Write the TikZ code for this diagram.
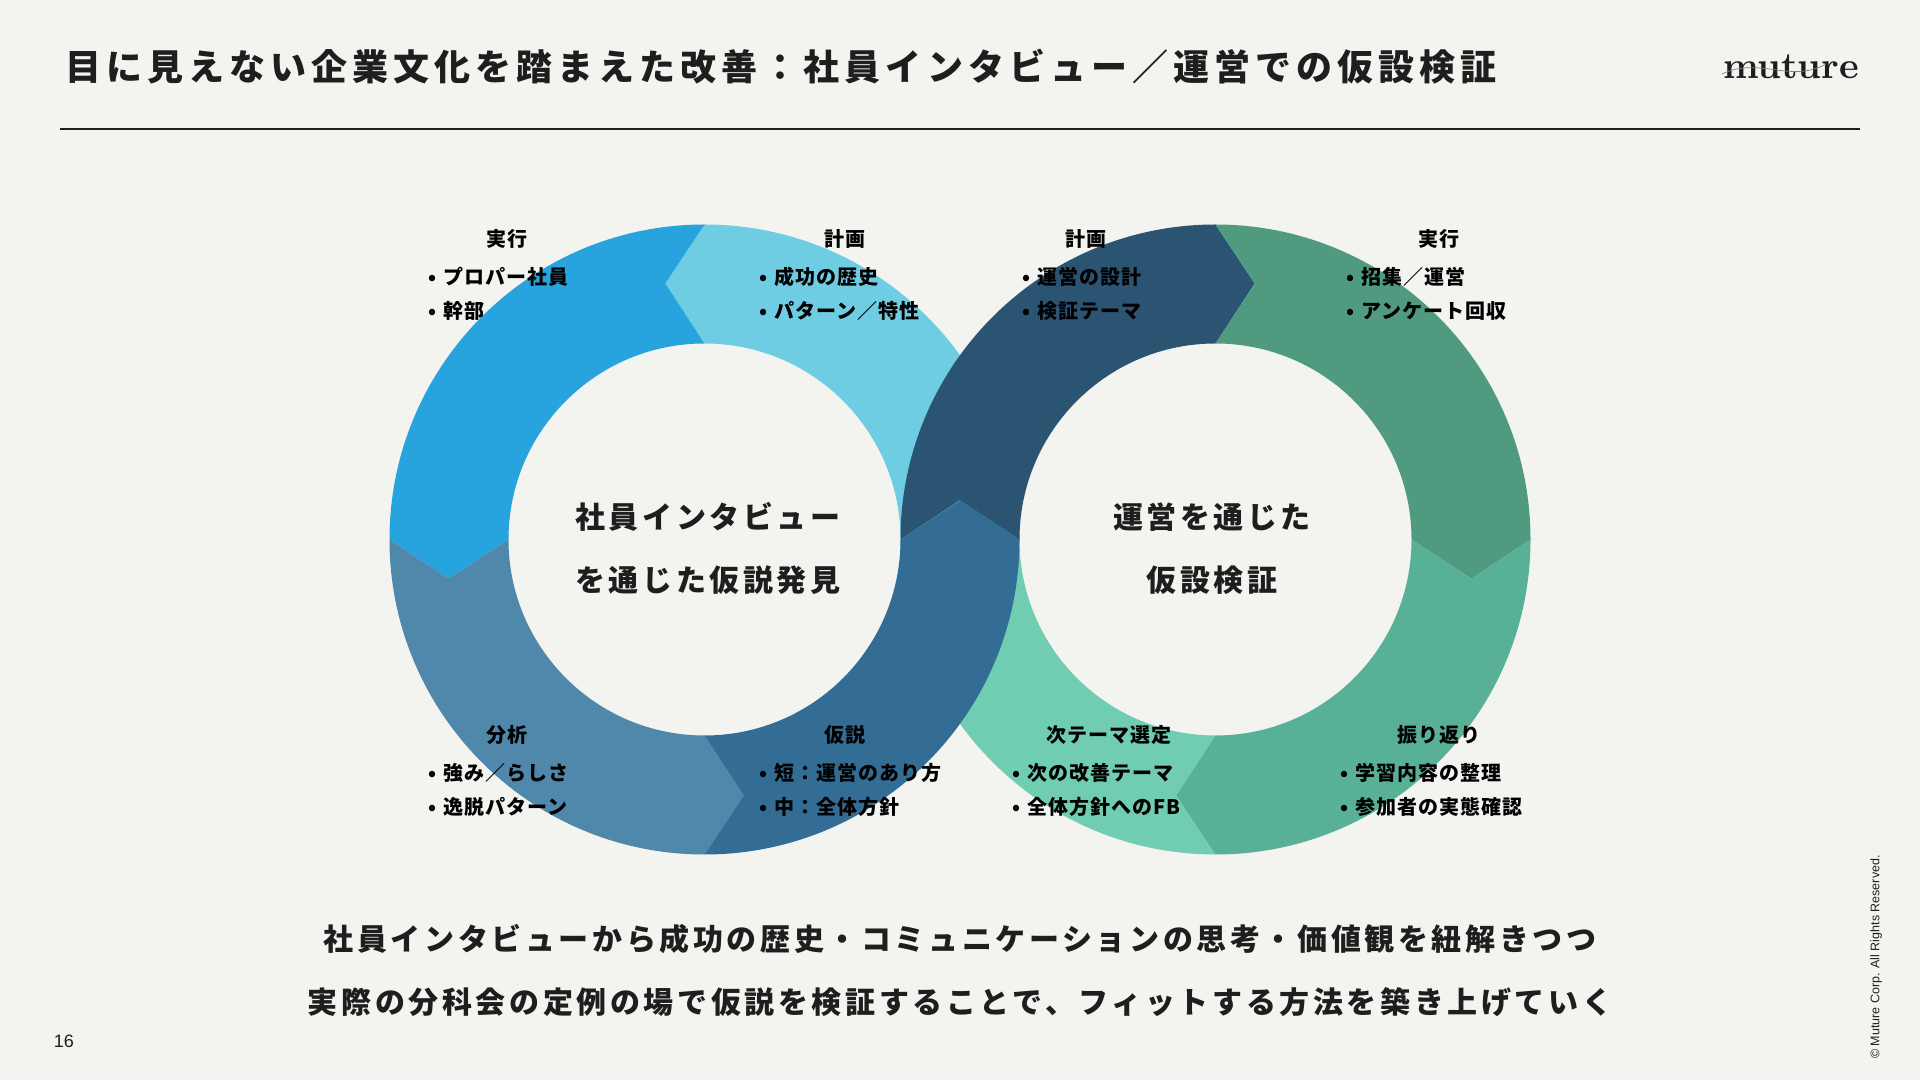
\documentclass[tikz,border=0pt]{standalone}
\usepackage{fontspec}
\usepackage{graphicx}
\setmainfont{Liberation Sans}
\newfontfamily\jptitle[LetterSpace=14]{Noto Sans CJK JP}
\newfontfamily\jpbig[LetterSpace=12]{Noto Sans CJK JP}
\newfontfamily\jpsmall[LetterSpace=5]{Noto Sans CJK JP}
\newfontfamily\logofont{Latin Modern Roman}
\definecolor{bgc}{HTML}{F3F3F0}
\definecolor{ink}{HTML}{1E1E1E}
\definecolor{lblue}{HTML}{6FCDE3}
\definecolor{dblue}{HTML}{27A3DD}
\definecolor{sblue}{HTML}{5088AB}
\definecolor{mblue}{HTML}{336D96}
\definecolor{navy}{HTML}{2B5473}
\definecolor{dgreen}{HTML}{509B80}
\definecolor{mgreen}{HTML}{58B197}
\definecolor{mint}{HTML}{70CDB1}
\newcommand{\blt}{\makebox[15pt][l]{•}}
% counter-clockwise segment: #1 colour, #2 start, #3 end
\newcommand{\ccwseg}[3]{\pgfmathsetmacro{\tipa}{#3+8.7}\pgfmathsetmacro{\ntch}{#2+8.7}%
  \fill[#1] (#2:315) arc[start angle=#2,end angle=#3,radius=315] -- (\tipa:259) -- (#3:196) arc[start angle=#3,end angle=#2,radius=196] -- (\ntch:259) -- cycle;}
% clockwise segment
\newcommand{\cwseg}[3]{\pgfmathsetmacro{\tipa}{#3-8.7}\pgfmathsetmacro{\ntch}{#2-8.7}%
  \fill[#1] (#2:315) arc[start angle=#2,end angle=#3,radius=315] -- (\tipa:259) -- (#3:196) arc[start angle=#3,end angle=#2,radius=196] -- (\ntch:259) -- cycle;}
\tikzset{
  titletext/.style={anchor=west,inner sep=0pt,text=ink,font=\jptitle\bfseries\fontsize{36}{40}\selectfont},
  bigtext/.style={inner sep=0pt,text=ink,font=\jpbig\bfseries\fontsize{30}{36}\selectfont},
  headtext/.style={inner sep=0pt,text=black,font=\jpsmall\bfseries\fontsize{20}{24}\selectfont},
  listtext/.style={anchor=north west,inner sep=0pt,align=left,text=black,font=\jpsmall\bfseries\fontsize{20}{34}\selectfont},
  smalltext/.style={inner sep=0pt,text=ink}
}
\begin{document}
\begin{tikzpicture}[x=1pt,y=1pt]
\useasboundingbox (0,0) rectangle (1920,1080);
\fill[bgc] (0,0) rectangle (1920,1080);
% header
\node[titletext] (title) at (65,1013) {目に見えない企業文化を踏まえた改善：社員インタビュー／運営での仮設検証};
\coordinate (ruleL) at (60,951);
\coordinate (ruleR) at (1860,951);
\draw[ink,line width=2.6pt] (ruleL) -- (ruleR);
\node[inner sep=0pt,text=ink] (logo) at (1791,1013) {\resizebox{136pt}{!}{\logofont\bfseries muture}};
\coordinate (swA) at (1722,1006);
\coordinate (swB) at (1826,1016);
\draw[gray,line width=0.7pt] (swA) .. controls (1760,1024) and (1790,996) .. (swB);
% lower layer
\begin{scope}[shift={(1215.5,540.5)}]
 \cwseg{mint}{270}{180}
\end{scope}
\begin{scope}[shift={(704.5,540.5)}]
 \ccwseg{lblue}{0}{90}
\end{scope}
% right ring
\begin{scope}[shift={(1215.5,540.5)}]
 \cwseg{navy}{180}{90}
 \cwseg{dgreen}{90}{0}
 \cwseg{mgreen}{0}{-90}
\end{scope}
% left ring
\begin{scope}[shift={(704.5,540.5)}]
 \ccwseg{dblue}{90}{180}
 \ccwseg{sblue}{180}{270}
 \ccwseg{mblue}{270}{360}
\end{scope}
% centre labels
\node[bigtext] (c1a) at (708,563) {社員インタビュー};
\node[bigtext] (c1b) at (708,500) {を通じた仮説発見};
\node[bigtext] (c2a) at (1212,563) {運営を通じた};
\node[bigtext] (c2b) at (1212,500) {仮設検証};
% step headings
\node[headtext] (h1) at (507,841) {実行};
\node[headtext] (h2) at (845,841) {計画};
\node[headtext] (h3) at (1086,841) {計画};
\node[headtext] (h4) at (1439,841) {実行};
\node[headtext] (h5) at (507,345) {分析};
\node[headtext] (h6) at (845,345) {仮説};
\node[headtext] (h7) at (1109,345) {次テーマ選定};
\node[headtext] (h8) at (1439,345) {振り返り};
% lists
\node[listtext] (l1) at (428,813) {\blt プロパー社員\\\blt 幹部};
\node[listtext] (l2) at (759,813) {\blt 成功の歴史\\\blt パターン／特性};
\node[listtext] (l3) at (1022,813) {\blt 運営の設計\\\blt 検証テーマ};
\node[listtext] (l4) at (1346,813) {\blt 招集／運営\\\blt アンケート回収};
\node[listtext] (l5) at (428,317) {\blt 強み／らしさ\\\blt 逸脱パターン};
\node[listtext] (l6) at (759,317) {\blt 短：運営のあり方\\\blt 中：全体方針};
\node[listtext] (l7) at (1012,317) {\blt 次の改善テーマ\\\blt 全体方針へのFB};
\node[listtext] (l8) at (1340,317) {\blt 学習内容の整理\\\blt 参加者の実態確認};
% bottom message
\node[bigtext] (m1) at (960,141) {社員インタビューから成功の歴史・コミュニケーションの思考・価値観を紐解きつつ};
\node[bigtext] (m2) at (960,78) {実際の分科会の定例の場で仮説を検証することで、フィットする方法を築き上げていく};
% footer
\node[smalltext,font=\fontsize{18}{20}\selectfont] (pg) at (64,39) {16};
\node[smalltext,rotate=90,font=\fontsize{12.5}{14}\selectfont] (copy) at (1876,123) {© Muture Corp. All Rights Reserved.};
\end{tikzpicture}
\end{document}
